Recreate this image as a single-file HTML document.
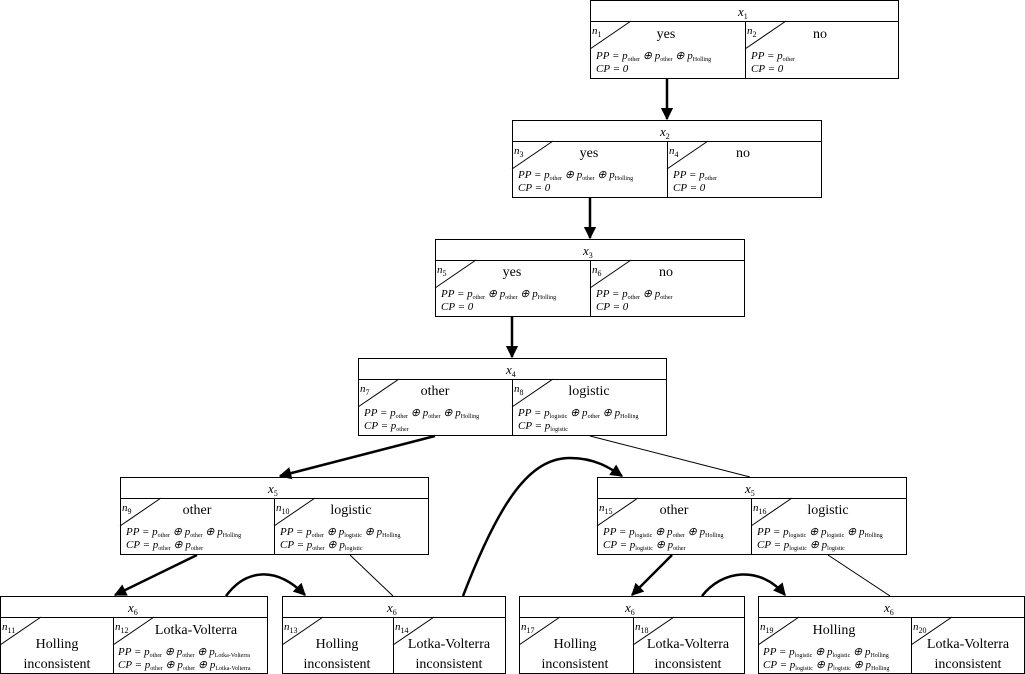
<!DOCTYPE html>
<html><head><meta charset="utf-8"><style>
html,body{margin:0;padding:0;background:#fff;}
svg{display:block;font-family:"Liberation Serif",serif;}
.t{font-style:italic;font-size:13px;}
.n{font-style:italic;font-size:11px;}
.l{font-size:14px;}
.m{font-style:italic;font-size:11px;}
.s{font-size:6px;font-style:normal;}
rect,line.b{fill:none;stroke:#000;stroke-width:1;}
</style></head><body>
<svg width="1025" height="674" viewBox="0 0 1025 674" xmlns="http://www.w3.org/2000/svg">
<defs>
<marker id="ah" viewBox="0 0 10 10" refX="9" refY="5" markerWidth="5" markerHeight="5" orient="auto" markerUnits="strokeWidth">
<path d="M0,0 L10,5 L0,10 z" fill="#000"/></marker>
</defs>
<g stroke="#000" fill="none">
<!-- box x1 -->
<rect x="590.5" y="0.5" width="308" height="78"/><line x1="590" y1="21.5" x2="898" y2="21.5"/><line x1="745.5" y1="21" x2="745.5" y2="78"/>
<line x1="590" y1="49" x2="631" y2="21"/><line x1="745" y1="49" x2="786" y2="21"/>
<!-- x2 -->
<rect x="512.5" y="120.5" width="309" height="77"/><line x1="512" y1="141.5" x2="821" y2="141.5"/><line x1="667.5" y1="141" x2="667.5" y2="197"/>
<line x1="512" y1="169" x2="553" y2="141"/><line x1="667" y1="169" x2="708" y2="141"/>
<!-- x3 -->
<rect x="435.5" y="239.5" width="309" height="77"/><line x1="435" y1="260.5" x2="744" y2="260.5"/><line x1="590.5" y1="260" x2="590.5" y2="316"/>
<line x1="435" y1="288" x2="476" y2="260"/><line x1="590" y1="288" x2="631" y2="260"/>
<!-- x4 -->
<rect x="358.5" y="358.5" width="308" height="77"/><line x1="358" y1="379.5" x2="666" y2="379.5"/><line x1="512.5" y1="379" x2="512.5" y2="435"/>
<line x1="358" y1="407" x2="399" y2="379"/><line x1="512" y1="407" x2="553" y2="379"/>
<!-- x5 left -->
<rect x="120.5" y="477.5" width="308" height="77"/><line x1="120" y1="498.5" x2="428" y2="498.5"/><line x1="274.5" y1="498" x2="274.5" y2="554"/>
<line x1="120" y1="526" x2="161" y2="498"/><line x1="274" y1="526" x2="315" y2="498"/>
<!-- x5 right -->
<rect x="597.5" y="477.5" width="309" height="77"/><line x1="597" y1="498.5" x2="906" y2="498.5"/><line x1="751.5" y1="498" x2="751.5" y2="554"/>
<line x1="597" y1="526" x2="638" y2="498"/><line x1="751" y1="526" x2="792" y2="498"/>
<!-- bottom -->
<rect x="0.5" y="596.5" width="267" height="77"/><line x1="0" y1="617.5" x2="267" y2="617.5"/><line x1="113.5" y1="617" x2="113.5" y2="673"/>
<line x1="0" y1="645" x2="41" y2="617"/><line x1="113" y1="645" x2="154" y2="617"/>
<rect x="282.5" y="596.5" width="223" height="77"/><line x1="282" y1="617.5" x2="505" y2="617.5"/><line x1="393.5" y1="617" x2="393.5" y2="673"/>
<line x1="282" y1="645" x2="323" y2="617"/><line x1="393" y1="645" x2="434" y2="617"/>
<rect x="519.5" y="596.5" width="225" height="77"/><line x1="519" y1="617.5" x2="744" y2="617.5"/><line x1="633.5" y1="617" x2="633.5" y2="673"/>
<line x1="519" y1="645" x2="560" y2="617"/><line x1="633" y1="645" x2="674" y2="617"/>
<rect x="758.5" y="596.5" width="266" height="77"/><line x1="758" y1="617.5" x2="1024" y2="617.5"/><line x1="911.5" y1="617" x2="911.5" y2="673"/>
<line x1="758" y1="645" x2="799" y2="617"/><line x1="911" y1="645" x2="952" y2="617"/>
<!-- edges -->
<g stroke-width="2.5">
<line x1="667" y1="79" x2="667" y2="119" marker-end="url(#ah)"/>
<line x1="590" y1="198" x2="590" y2="238" marker-end="url(#ah)"/>
<line x1="512" y1="317" x2="512" y2="357" marker-end="url(#ah)"/>
<line x1="435" y1="436" x2="280" y2="476" marker-end="url(#ah)"/>
<path d="M463,596 C500,500 530,458 570,458 C595,458 610,468 622,476" marker-end="url(#ah)"/>
<line x1="197" y1="555" x2="115" y2="595" marker-end="url(#ah)"/>
<path d="M226,596 C245,570 275,565 305,595" marker-end="url(#ah)"/>
<line x1="672" y1="555" x2="632" y2="595" marker-end="url(#ah)"/>
<path d="M702,596 C722,570 760,565 785,595" marker-end="url(#ah)"/>
</g>
<line x1="590" y1="436" x2="750" y2="477"/>
<line x1="350" y1="555" x2="393" y2="596"/>
<line x1="828" y1="555" x2="890" y2="596"/>
</g>
<g fill="#000">
<!-- x1 -->
<text class="t" x="738" y="16">x<tspan class="s" dy="3" style="font-size:8px">1</tspan></text>
<text class="n" x="592" y="34">n<tspan class="s" dy="3" style="font-size:8px">1</tspan></text>
<text class="n" x="747" y="34">n<tspan class="s" dy="3" style="font-size:8px">2</tspan></text>
<text class="l" x="666" y="38" text-anchor="middle">yes</text>
<text class="l" x="820" y="38" text-anchor="middle">no</text>
<text class="m" x="596" y="59">PP = p<tspan class="s" dy="2">other</tspan><tspan dy="-2"> ⊕ p</tspan><tspan class="s" dy="2">other</tspan><tspan dy="-2"> ⊕ p</tspan><tspan class="s" dy="2">Holling</tspan></text>
<text class="m" x="596" y="72">CP = 0</text>
<text class="m" x="751" y="59">PP = p<tspan class="s" dy="2">other</tspan></text>
<text class="m" x="751" y="72">CP = 0</text>
<!-- x2 -->
<text class="t" x="660" y="136">x<tspan class="s" dy="3" style="font-size:8px">2</tspan></text>
<text class="n" x="514" y="154">n<tspan class="s" dy="3" style="font-size:8px">3</tspan></text>
<text class="n" x="669" y="154">n<tspan class="s" dy="3" style="font-size:8px">4</tspan></text>
<text class="l" x="589" y="157" text-anchor="middle">yes</text>
<text class="l" x="743" y="157" text-anchor="middle">no</text>
<text class="m" x="518" y="178">PP = p<tspan class="s" dy="2">other</tspan><tspan dy="-2"> ⊕ p</tspan><tspan class="s" dy="2">other</tspan><tspan dy="-2"> ⊕ p</tspan><tspan class="s" dy="2">Holling</tspan></text>
<text class="m" x="518" y="191">CP = 0</text>
<text class="m" x="673" y="178">PP = p<tspan class="s" dy="2">other</tspan></text>
<text class="m" x="673" y="191">CP = 0</text>
<!-- x3 -->
<text class="t" x="583" y="255">x<tspan class="s" dy="3" style="font-size:8px">3</tspan></text>
<text class="n" x="437" y="273">n<tspan class="s" dy="3" style="font-size:8px">5</tspan></text>
<text class="n" x="592" y="273">n<tspan class="s" dy="3" style="font-size:8px">6</tspan></text>
<text class="l" x="512" y="276" text-anchor="middle">yes</text>
<text class="l" x="666" y="276" text-anchor="middle">no</text>
<text class="m" x="441" y="297">PP = p<tspan class="s" dy="2">other</tspan><tspan dy="-2"> ⊕ p</tspan><tspan class="s" dy="2">other</tspan><tspan dy="-2"> ⊕ p</tspan><tspan class="s" dy="2">Holling</tspan></text>
<text class="m" x="441" y="310">CP = 0</text>
<text class="m" x="596" y="297">PP = p<tspan class="s" dy="2">other</tspan><tspan dy="-2"> ⊕ p</tspan><tspan class="s" dy="2">other</tspan></text>
<text class="m" x="596" y="310">CP = 0</text>
<!-- x4 -->
<text class="t" x="506" y="374">x<tspan class="s" dy="3" style="font-size:8px">4</tspan></text>
<text class="n" x="360" y="392">n<tspan class="s" dy="3" style="font-size:8px">7</tspan></text>
<text class="n" x="514" y="392">n<tspan class="s" dy="3" style="font-size:8px">8</tspan></text>
<text class="l" x="435" y="395" text-anchor="middle">other</text>
<text class="l" x="589" y="395" text-anchor="middle">logistic</text>
<text class="m" x="364" y="416">PP = p<tspan class="s" dy="2">other</tspan><tspan dy="-2"> ⊕ p</tspan><tspan class="s" dy="2">other</tspan><tspan dy="-2"> ⊕ p</tspan><tspan class="s" dy="2">Holling</tspan></text>
<text class="m" x="364" y="429">CP = p<tspan class="s" dy="2">other</tspan></text>
<text class="m" x="518" y="416">PP = p<tspan class="s" dy="2">logistic</tspan><tspan dy="-2"> ⊕ p</tspan><tspan class="s" dy="2">other</tspan><tspan dy="-2"> ⊕ p</tspan><tspan class="s" dy="2">Holling</tspan></text>
<text class="m" x="518" y="429">CP = p<tspan class="s" dy="2">logistic</tspan></text>
<!-- x5 left -->
<text class="t" x="268" y="493">x<tspan class="s" dy="3" style="font-size:8px">5</tspan></text>
<text class="n" x="122" y="511">n<tspan class="s" dy="3" style="font-size:8px">9</tspan></text>
<text class="n" x="276" y="511">n<tspan class="s" dy="3" style="font-size:8px">10</tspan></text>
<text class="l" x="197" y="514" text-anchor="middle">other</text>
<text class="l" x="351" y="514" text-anchor="middle">logistic</text>
<text class="m" x="126" y="535">PP = p<tspan class="s" dy="2">other</tspan><tspan dy="-2"> ⊕ p</tspan><tspan class="s" dy="2">other</tspan><tspan dy="-2"> ⊕ p</tspan><tspan class="s" dy="2">Holling</tspan></text>
<text class="m" x="126" y="548">CP = p<tspan class="s" dy="2">other</tspan><tspan dy="-2"> ⊕ p</tspan><tspan class="s" dy="2">other</tspan></text>
<text class="m" x="280" y="535">PP = p<tspan class="s" dy="2">other</tspan><tspan dy="-2"> ⊕ p</tspan><tspan class="s" dy="2">logistic</tspan><tspan dy="-2"> ⊕ p</tspan><tspan class="s" dy="2">Holling</tspan></text>
<text class="m" x="280" y="548">CP = p<tspan class="s" dy="2">other</tspan><tspan dy="-2"> ⊕ p</tspan><tspan class="s" dy="2">logistic</tspan></text>
<!-- x5 right -->
<text class="t" x="745" y="493">x<tspan class="s" dy="3" style="font-size:8px">5</tspan></text>
<text class="n" x="599" y="511">n<tspan class="s" dy="3" style="font-size:8px">15</tspan></text>
<text class="n" x="753" y="511">n<tspan class="s" dy="3" style="font-size:8px">16</tspan></text>
<text class="l" x="674" y="514" text-anchor="middle">other</text>
<text class="l" x="828" y="514" text-anchor="middle">logistic</text>
<text class="m" x="603" y="535">PP = p<tspan class="s" dy="2">logistic</tspan><tspan dy="-2"> ⊕ p</tspan><tspan class="s" dy="2">other</tspan><tspan dy="-2"> ⊕ p</tspan><tspan class="s" dy="2">Holling</tspan></text>
<text class="m" x="603" y="548">CP = p<tspan class="s" dy="2">logistic</tspan><tspan dy="-2"> ⊕ p</tspan><tspan class="s" dy="2">other</tspan></text>
<text class="m" x="757" y="535">PP = p<tspan class="s" dy="2">logistic</tspan><tspan dy="-2"> ⊕ p</tspan><tspan class="s" dy="2">logistic</tspan><tspan dy="-2"> ⊕ p</tspan><tspan class="s" dy="2">Holling</tspan></text>
<text class="m" x="757" y="548">CP = p<tspan class="s" dy="2">logistic</tspan><tspan dy="-2"> ⊕ p</tspan><tspan class="s" dy="2">logistic</tspan></text>
<!-- bottom 1 -->
<text class="t" x="128" y="612">x<tspan class="s" dy="3" style="font-size:8px">6</tspan></text>
<text class="n" x="2" y="630">n<tspan class="s" dy="3" style="font-size:8px">11</tspan></text>
<text class="n" x="115" y="630">n<tspan class="s" dy="3" style="font-size:8px">12</tspan></text>
<text class="l" x="57" y="648" text-anchor="middle">Holling</text>
<text class="l" x="57" y="668" text-anchor="middle">inconsistent</text>
<text class="l" x="196" y="634" text-anchor="middle">Lotka-Volterra</text>
<text class="m" x="118" y="655">PP = p<tspan class="s" dy="2">other</tspan><tspan dy="-2"> ⊕ p</tspan><tspan class="s" dy="2">other</tspan><tspan dy="-2"> ⊕ p</tspan><tspan class="s" dy="2">Lotka-Volterra</tspan></text>
<text class="m" x="118" y="668">CP = p<tspan class="s" dy="2">other</tspan><tspan dy="-2"> ⊕ p</tspan><tspan class="s" dy="2">other</tspan><tspan dy="-2"> ⊕ p</tspan><tspan class="s" dy="2">Lotka-Volterra</tspan></text>
<!-- bottom 2 -->
<text class="t" x="387" y="612">x<tspan class="s" dy="3" style="font-size:8px">6</tspan></text>
<text class="n" x="284" y="630">n<tspan class="s" dy="3" style="font-size:8px">13</tspan></text>
<text class="n" x="395" y="630">n<tspan class="s" dy="3" style="font-size:8px">14</tspan></text>
<text class="l" x="337" y="648" text-anchor="middle">Holling</text>
<text class="l" x="337" y="668" text-anchor="middle">inconsistent</text>
<text class="l" x="449" y="648" text-anchor="middle">Lotka-Volterra</text>
<text class="l" x="449" y="668" text-anchor="middle">inconsistent</text>
<!-- bottom 3 -->
<text class="t" x="625" y="612">x<tspan class="s" dy="3" style="font-size:8px">6</tspan></text>
<text class="n" x="521" y="630">n<tspan class="s" dy="3" style="font-size:8px">17</tspan></text>
<text class="n" x="635" y="630">n<tspan class="s" dy="3" style="font-size:8px">18</tspan></text>
<text class="l" x="575" y="648" text-anchor="middle">Holling</text>
<text class="l" x="575" y="668" text-anchor="middle">inconsistent</text>
<text class="l" x="688" y="648" text-anchor="middle">Lotka-Volterra</text>
<text class="l" x="688" y="668" text-anchor="middle">inconsistent</text>
<!-- bottom 4 -->
<text class="t" x="884" y="612">x<tspan class="s" dy="3" style="font-size:8px">6</tspan></text>
<text class="n" x="760" y="630">n<tspan class="s" dy="3" style="font-size:8px">19</tspan></text>
<text class="n" x="913" y="630">n<tspan class="s" dy="3" style="font-size:8px">20</tspan></text>
<text class="l" x="834" y="634" text-anchor="middle">Holling</text>
<text class="m" x="763" y="655">PP = p<tspan class="s" dy="2">logistic</tspan><tspan dy="-2"> ⊕ p</tspan><tspan class="s" dy="2">logistic</tspan><tspan dy="-2"> ⊕ p</tspan><tspan class="s" dy="2">Holling</tspan></text>
<text class="m" x="763" y="668">CP = p<tspan class="s" dy="2">logistic</tspan><tspan dy="-2"> ⊕ p</tspan><tspan class="s" dy="2">logistic</tspan><tspan dy="-2"> ⊕ p</tspan><tspan class="s" dy="2">Holling</tspan></text>
<text class="l" x="968" y="648" text-anchor="middle">Lotka-Volterra</text>
<text class="l" x="968" y="668" text-anchor="middle">inconsistent</text>
</g>
</svg>
</body></html>
